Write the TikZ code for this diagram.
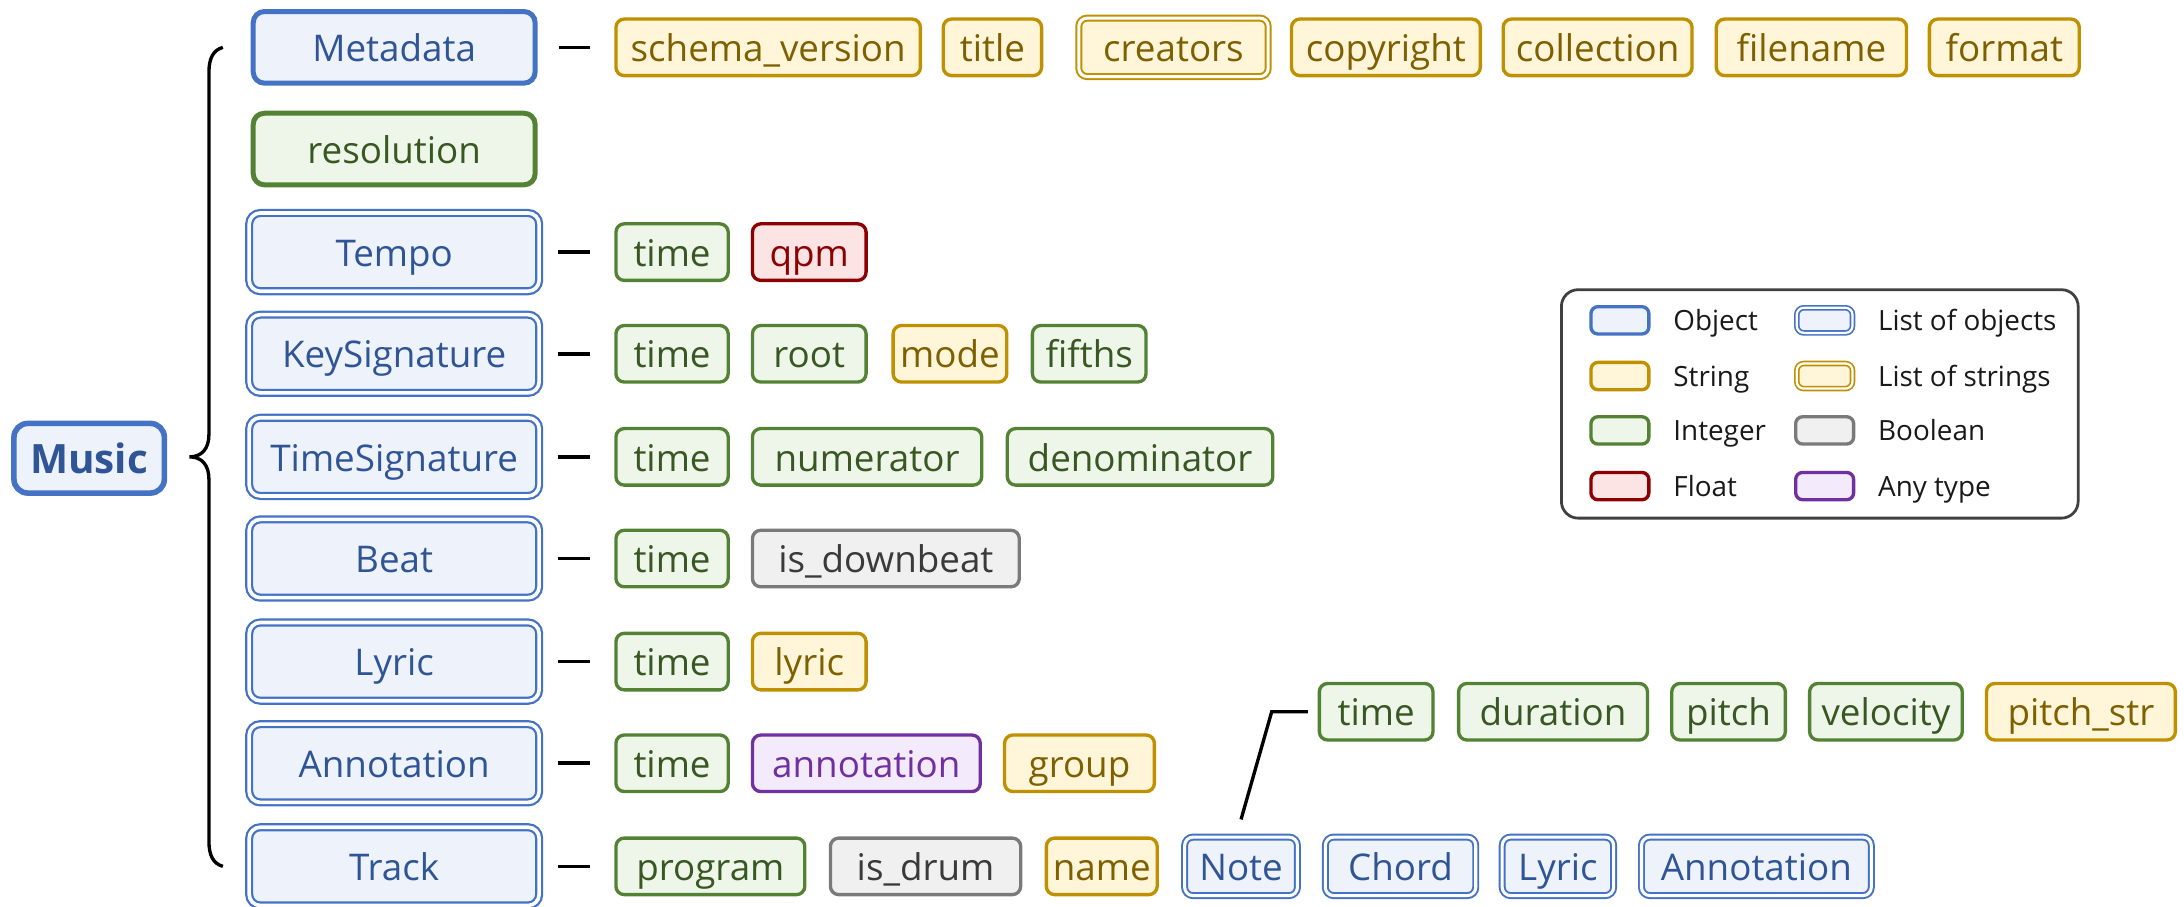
\documentclass[tikz,border=0pt]{standalone}
\usepackage{fontspec}
\setmainfont{Open Sans}
\usetikzlibrary{calc}
\definecolor{objB}{HTML}{4472C4}
\definecolor{objF}{HTML}{EEF2FA}
\definecolor{objT}{HTML}{2F5597}
\definecolor{strB}{HTML}{BF9000}
\definecolor{strF}{HTML}{FFF5D9}
\definecolor{strT}{HTML}{7F6000}
\definecolor{intB}{HTML}{548235}
\definecolor{intF}{HTML}{EEF6E9}
\definecolor{intT}{HTML}{385723}
\definecolor{fltB}{HTML}{8B0000}
\definecolor{fltF}{HTML}{FDE4E4}
\definecolor{fltT}{HTML}{8B0000}
\definecolor{boolB}{HTML}{7A7A7A}
\definecolor{boolF}{HTML}{F0F0F0}
\definecolor{boolT}{HTML}{3A3A3A}
\definecolor{anyB}{HTML}{7030A0}
\definecolor{anyF}{HTML}{F3EAFB}
\definecolor{anyT}{HTML}{7030A0}
\definecolor{legB}{HTML}{404040}
\tikzset{
  base/.style={rounded corners=3pt, inner sep=0pt, align=center,
    font=\fontsize{13.2}{15}\selectfont, text height=12.3pt, text depth=2.1pt},
  fld/.style={base, line width=1.2pt, minimum height=20.3pt},
  fldd/.style={base, line width=0.7pt, double=white, double distance=1.1pt, minimum height=21pt},
  mainS/.style={base, rounded corners=4pt, line width=1.8pt, minimum width=101.2pt, minimum height=25.7pt},
  mainD/.style={base, rounded corners=4pt, line width=0.8pt, double=white, double distance=1.3pt,
    minimum width=104.1pt, minimum height=28.1pt},
  obj/.style={draw=objB, fill=objF, text=objT},
  str/.style={draw=strB, fill=strF, text=strT},
  int/.style={draw=intB, fill=intF, text=intT},
  flt/.style={draw=fltB, fill=fltF, text=fltT},
  bool/.style={draw=boolB, fill=boolF, text=boolT},
  any/.style={draw=anyB, fill=anyF, text=anyT},
  conn/.style={draw=black, line width=1.3pt},
  sws/.style={rounded corners=2.5pt, line width=1.2pt, minimum width=20.8pt, minimum height=9.8pt, inner sep=0pt},
  swd/.style={rounded corners=2.5pt, line width=0.6pt, double=white, double distance=0.8pt,
    minimum width=20pt, minimum height=9pt, inner sep=0pt},
  leglab/.style={anchor=west, inner sep=0pt, font=\fontsize{10}{12}\selectfont, text=black!90,
    text height=7.2pt, text depth=0pt}
}
\begin{document}
\begin{tikzpicture}[x=0.5pt, y=-0.5pt]
\useasboundingbox (0,0) rectangle (1568,651);
% root
\node[base, obj, rounded corners=5pt, line width=2pt, minimum width=54pt, minimum height=25pt,
  font=\fontsize{14.5}{17}\selectfont\bfseries, text height=13.2pt, text depth=2.2pt] (music) at (64,329) {Music};
% main column
\node[mainS, obj] (meta) at (283,34) {Metadata};
\node[mainS, int] (reso) at (283,107) {resolution};
\node[mainD, obj] (tempo) at (283,181) {Tempo};
\node[mainD, obj] (key) at (283,254) {KeySignature};
\node[mainD, obj] (tsig) at (283,328) {TimeSignature};
\node[mainD, obj] (beat) at (283,401) {Beat};
\node[mainD, obj] (lyr) at (283,475) {Lyric};
\node[mainD, obj] (ann) at (283,548) {Annotation};
\node[mainD, obj] (track) at (283,622) {Track};
% brace
\draw[line width=1.2pt] (160,34) .. controls (153,36) and (150,42) .. (150,52) -- (150,312)
  .. controls (150,322) and (145,328) .. (136,328) .. controls (145,328) and (150,334) .. (150,344)
  -- (150,604) .. controls (150,614) and (153,620) .. (160,622);
% Metadata fields
\node[fld, str, minimum width=109.3pt] (m1) at (551.5,34) {schema\_version};
\node[fld, str, minimum width=35.3pt] (m2) at (712.5,34) {title};
\node[fldd, str, minimum width=68pt] (m3) at (842.5,34) {creators};
\node[fld, str, minimum width=67.8pt] (m4) at (995,34) {copyright};
\node[fld, str, minimum width=67.8pt] (m5) at (1147,34) {collection};
\node[fld, str, minimum width=68.3pt] (m6) at (1300.5,34) {filename};
\node[fld, str, minimum width=53.8pt] (m7) at (1439,34) {format};
% Tempo
\node[fld, int, minimum width=40.3pt] (te1) at (482.5,181) {time};
\node[fld, flt, minimum width=40.8pt] (te2) at (581,181) {qpm};
% KeySignature
\node[fld, int, minimum width=40.3pt] (k1) at (482.5,254) {time};
\node[fld, int, minimum width=40.8pt] (k2) at (581,254) {root};
\node[fld, str, minimum width=40.8pt] (k3) at (682,254) {mode};
\node[fld, int, minimum width=40.8pt] (k4) at (782,254) {fifths};
% TimeSignature
\node[fld, int, minimum width=40.3pt] (ts1) at (482.5,328) {time};
\node[fld, int, minimum width=82.3pt] (ts2) at (622.5,328) {numerator};
\node[fld, int, minimum width=95.3pt] (ts3) at (818.5,328) {denominator};
% Beat
\node[fld, int, minimum width=40.3pt] (b1) at (482.5,401) {time};
\node[fld, bool, minimum width=95.8pt] (b2) at (636,401) {is\_downbeat};
% Lyric
\node[fld, int, minimum width=40.3pt] (l1) at (482.5,475) {time};
\node[fld, str, minimum width=40.8pt] (l2) at (581,475) {lyric};
% Annotation
\node[fld, int, minimum width=40.3pt] (a1) at (482.5,548) {time};
\node[fld, any, minimum width=81.8pt] (a2) at (622,548) {annotation};
\node[fld, str, minimum width=53.8pt] (a3) at (775,548) {group};
% Track
\node[fld, int, minimum width=67.8pt] (tr1) at (510,622) {program};
\node[fld, bool, minimum width=68.3pt] (tr2) at (664.5,622) {is\_drum};
\node[fld, str, minimum width=39.8pt] (tr3) at (791,622) {name};
\node[fldd, obj, minimum width=40.5pt] (tr4) at (891,622) {Note};
\node[fldd, obj, minimum width=54pt] (tr5) at (1005.5,622) {Chord};
\node[fldd, obj, minimum width=40pt] (tr6) at (1118.5,622) {Lyric};
\node[fldd, obj, minimum width=82.5pt] (tr7) at (1261,622) {Annotation};
% Note fields
\node[fld, int, minimum width=40.8pt] (n1) at (988,511) {time};
\node[fld, int, minimum width=67.8pt] (n2) at (1115,511) {duration};
\node[fld, int, minimum width=40.8pt] (n3) at (1241,511) {pitch};
\node[fld, int, minimum width=54.8pt] (n4) at (1354,511) {velocity};
\node[fld, str, minimum width=67.8pt] (n5) at (1494,511) {pitch\_str};
% dashes
\draw[conn, shorten <=7.5pt, shorten >=8.6pt] (meta.east) -- (m1.west);
\foreach \a/\b in {tempo/te1, key/k1, tsig/ts1, beat/b1, lyr/l1, ann/a1, track/tr1}
  \draw[conn, shorten <=6.2pt, shorten >=8.6pt] (\a.east) -- (\b.west);
% Note connector
\draw[conn, line width=1.2pt] ($(tr4.north)+(0,6pt)$) -- ($(n1.west)+(-16.5pt,0)$) -- ($(n1.west)+(-3.5pt,0)$);
% legend
\node[draw=legB, line width=1pt, rounded corners=6pt, minimum width=185.5pt, minimum height=82pt] (legend) at (1306.5,290) {};
\node[sws, obj] (s1) at (1163,230) {};
\node[leglab] (t1) at (1201,230) {Object};
\node[sws, str] (s2) at (1163,270) {};
\node[leglab] (t2) at (1201,270) {String};
\node[sws, int] (s3) at (1163,309) {};
\node[leglab] (t3) at (1201,309) {Integer};
\node[sws, flt] (s4) at (1163,349) {};
\node[leglab] (t4) at (1201,349) {Float};
\node[swd, obj] (s5) at (1310,230) {};
\node[leglab] (t5) at (1348,230) {List of objects};
\node[swd, str] (s6) at (1310,270) {};
\node[leglab] (t6) at (1348,270) {List of strings};
\node[sws, bool] (s7) at (1310,309) {};
\node[leglab] (t7) at (1348,309) {Boolean};
\node[sws, any] (s8) at (1310,349) {};
\node[leglab] (t8) at (1348,349) {Any type};
\end{tikzpicture}
\end{document}
